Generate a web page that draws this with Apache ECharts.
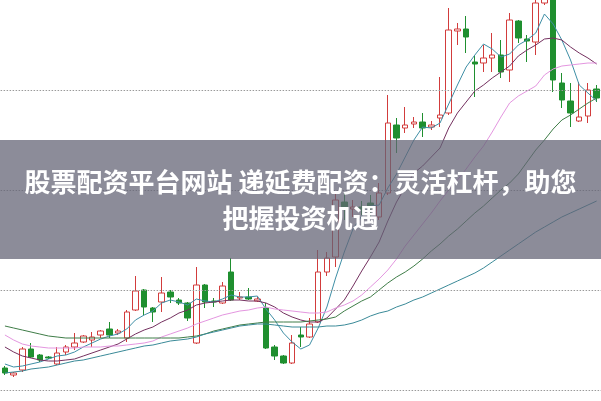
<!DOCTYPE html>
<html><head><meta charset="utf-8">
<script src="https://cdn.jsdelivr.net/npm/echarts@6/dist/echarts.min.js"></script>
<style>html,body{margin:0;padding:0;background:#fff}#c{width:601px;height:401px}</style>
</head><body><div id="c"></div>
<script>
const categories = ['1','2','3','4','5','6','7','8','9','10','11','12','13','14','15','16','17','18','19','20','21','22','23','24','25','26','27','28','29','30','31','32','33','34','35','36','37','38','39','40','41','42','43','44','45','46','47','48','49','50','51','52','53','54','55','56','57','58','59','60','61','62','63','64','65','66','67','68','69'];
// [open, close, low, high]
const ohlc = [
[12.2,11.7,11.5,12.4],[11.5,11.7,11.3,11.8],[12.0,14.1,11.8,14.3],[14.1,13.3,13.2,14.7],[13.5,13.0,12.8,13.6],
[13.3,13.2,13.1,13.4],[12.6,13.7,12.5,14.3],[13.8,14.3,13.5,14.5],[14.3,14.7,14.0,15.7],[14.8,15.4,14.7,15.5],
[15.0,15.3,14.3,15.8],[15.5,15.9,15.2,16.0],[16.1,15.5,15.2,16.8],[15.7,15.9,15.5,16.1],[15.2,17.8,14.8,18.0],
[18.0,19.9,17.9,21.4],[20.0,18.3,17.5,20.1],[18.2,17.8,16.8,18.3],[18.8,19.7,17.8,21.3],[19.8,19.3,18.7,20.0],
[19.0,18.7,18.5,19.2],[18.7,17.2,16.9,18.8],[14.7,20.5,14.6,22.3],[20.5,18.8,18.2,20.6],[18.9,18.8,18.3,19.2],
[18.7,20.4,18.6,20.8],[21.8,19.0,18.9,23.2],[19.2,19.3,19.0,19.8],[19.3,19.1,19.0,20.2],[18.9,19.1,18.8,19.3],
[18.2,14.2,14.1,18.7],[14.3,13.4,13.0,14.5],[13.4,12.7,12.6,13.5],[12.7,14.7,12.6,15.5],[15.5,15.3,14.3,16.3],
[15.3,16.6,15.2,17.2],[16.8,21.8,16.7,24.0],[21.8,23.2,21.4,23.8],[23.3,29.0,22.3,29.8],[28.8,28.2,27.0,29.7],
[28.1,28.3,27.3,29.0],[28.3,28.1,27.5,28.9],[28.7,28.2,27.3,29.5],[27.3,29.7,27.0,30.7],[29.7,36.7,29.5,39.5],
[36.5,35.2,33.7,37.2],[36.2,36.5,35.7,38.3],[36.6,36.8,36.2,37.3],[36.8,36.2,35.3,37.7],[36.3,36.5,36.0,36.9],
[37.2,37.5,36.3,41.3],[37.7,46.0,37.5,48.2],[45.9,46.1,44.5,46.7],[46.1,45.3,43.7,47.4],[42.8,42.6,39.3,43.4],
[42.7,43.2,41.8,44.5],[43.2,43.5,41.8,45.7],[43.5,41.8,41.2,45.0],[42.0,47.0,40.8,47.7],[46.9,45.2,44.7,47.0],
[45.1,44.9,42.8,45.5],[44.8,48.7,43.5,49.0],[48.7,49.5,48.5,50.0],[49.3,41.0,39.8,49.8],[40.7,39.0,38.2,41.7],
[38.9,37.7,36.3,40.7],[36.9,37.3,36.8,40.8],[37.4,40.0,36.7,40.7],[40.1,39.2,38.8,40.5]
];
const ma5 = [12.6,12.3,12.4,12.6,12.8,13.1,13.4,13.5,13.8,14.3,
14.7,15.1,15.4,15.6,16.1,17.0,17.5,17.9,18.7,19.0,
18.8,18.5,19.1,18.9,18.8,19.1,19.5,19.3,19.3,19.4,
18.1,17.0,15.7,14.8,14.1,14.5,16.2,18.3,21.2,23.8,
26.1,27.4,28.4,28.5,30.2,31.6,33.3,35.0,36.3,36.2,
36.7,38.6,40.5,42.3,43.5,44.6,44.1,43.3,43.6,44.5,
45.0,45.7,47.6,46.6,45.0,43.0,40.5,39.7,38.9];
const ma10 = [14.3,13.8,13.4,13.2,13.0,12.9,12.9,13.0,13.1,13.4,
13.7,14.0,14.3,14.6,15.1,15.6,16.0,16.3,16.8,17.2,
17.7,18.0,18.5,18.7,18.8,18.9,19.0,19.0,18.9,18.9,
18.7,18.3,17.7,17.3,17.0,16.8,16.8,17.2,18.1,19.0,
20.4,21.9,23.3,24.8,26.9,28.8,30.3,31.7,32.4,33.3,
34.2,36.2,37.7,38.8,39.9,40.5,41.2,41.8,42.4,43.4,
44.0,44.5,45.1,45.2,45.0,44.3,43.7,43.2,42.6];
const ma20 = [15.5,15.0,14.6,14.4,14.3,14.2,14.2,14.2,14.2,14.3,
14.3,14.3,14.4,14.4,14.5,14.6,14.7,14.9,15.3,15.6,
15.9,16.2,16.6,16.9,17.2,17.5,17.7,17.9,18.0,18.2,
18.3,18.1,18.0,17.9,17.8,17.7,17.7,17.8,18.2,18.5,
18.9,19.5,20.3,21.1,22.0,23.1,24.4,25.5,26.6,27.7,
28.9,30.0,31.0,32.1,33.3,34.4,35.8,37.3,38.7,39.4,
39.9,40.4,41.5,42.1,42.4,42.5,42.6,42.7,42.7];
const ma30 = [16.4,16.2,16.0,15.8,15.6,15.4,15.3,15.2,15.2,15.2,
15.2,15.2,15.2,15.2,15.2,15.2,15.2,15.2,15.2,15.2,
15.2,15.3,15.4,15.6,15.9,16.1,16.3,16.5,16.6,16.7,
16.8,16.8,16.8,16.8,16.8,16.9,17.0,17.1,17.3,17.9,
18.4,18.9,19.3,20.0,20.7,21.3,21.8,22.4,23.1,23.9,
24.6,25.4,26.1,26.9,27.7,28.4,29.2,30.0,30.7,31.6,
32.8,34.0,35.0,36.1,37.0,37.5,38.1,38.7,39.2];
const ma60 = [11.7,11.8,11.9,12.1,12.2,12.3,12.5,12.7,12.9,13.0,
13.2,13.4,13.6,13.8,14.0,14.2,14.4,14.5,14.7,14.9,
15.0,15.1,15.3,15.6,15.8,16.0,16.2,16.4,16.5,16.6,
16.6,16.5,16.4,16.3,16.3,16.3,16.3,16.4,16.4,16.5,
16.7,17.0,17.4,17.7,17.9,18.3,18.6,19.0,19.3,19.7,
20.1,20.5,20.9,21.3,21.7,22.2,22.8,23.4,24.0,24.6,
25.2,25.8,26.3,26.8,27.3,27.7,28.1,28.5,28.9];
const gridValues = [10, 20, 30, 40];
const titleLines = ['股票配资平台网站 递延费配资：灵活杠杆，助您', '把握投资机遇'];
const yMin = 8.9, yMax = 49;

const chart = echarts.init(document.getElementById('c'), null, {renderer: 'canvas'});
function maSeries(name, data, color) {
  return {name: name, type: 'line', data: data, symbol: 'none', clip: true, silent: true,
    lineStyle: {width: 1, color: color}, z: 3};
}
const gridLineSeries = {
  name: 'grid', type: 'line', data: [], silent: true, z: 1,
  markLine: {symbol: 'none', silent: true, animation: false, label: {show: false},
    lineStyle: {color: '#9a9a9a', width: 1, type: [1.5, 1.5]},
    data: gridValues.map(function (v) { return {yAxis: v}; })}
};
chart.setOption({
  animation: false,
  backgroundColor: '#ffffff',
  grid: {left: 0.6, width: 602.8, top: 0, bottom: 0, containLabel: false},
  xAxis: {type: 'category', data: categories, boundaryGap: true,
    axisLine: {show: false}, axisTick: {show: false}, axisLabel: {show: false}, splitLine: {show: false}},
  yAxis: {type: 'value', min: yMin, max: yMax, scale: true,
    axisLine: {show: false}, axisTick: {show: false}, axisLabel: {show: false}, splitLine: {show: false}},
  series: [
    gridLineSeries,
    {type: 'candlestick', data: ohlc, barWidth: 6, clip: true, z: 2,
      itemStyle: {color: '#ffffff', color0: '#1f8f2f', borderColor: '#d23c3c', borderColor0: '#1f8f2f', borderWidth: 1}},
    maSeries('MA5', ma5, '#3f8fa6'),
    maSeries('MA10', ma10, '#74305f'),
    maSeries('MA20', ma20, '#e496e0'),
    maSeries('MA30', ma30, '#3f7d48'),
    maSeries('MA60', ma60, '#3a8a98')
  ],
  graphic: [
    {type: 'rect', left: 0, top: 140, z: 100, silent: true,
      shape: {width: 601, height: 119}, style: {fill: 'rgba(100,100,118,0.74)'}},
    {type: 'text', z: 101, silent: true, x: 300.5, y: 200,
      style: {text: titleLines.join('\n'), fill: '#ffffff', align: 'center', verticalAlign: 'middle',
        font: 'bold 26px "Noto Sans CJK SC", sans-serif', lineHeight: 36}}
  ]
});
</script>
</body></html>
